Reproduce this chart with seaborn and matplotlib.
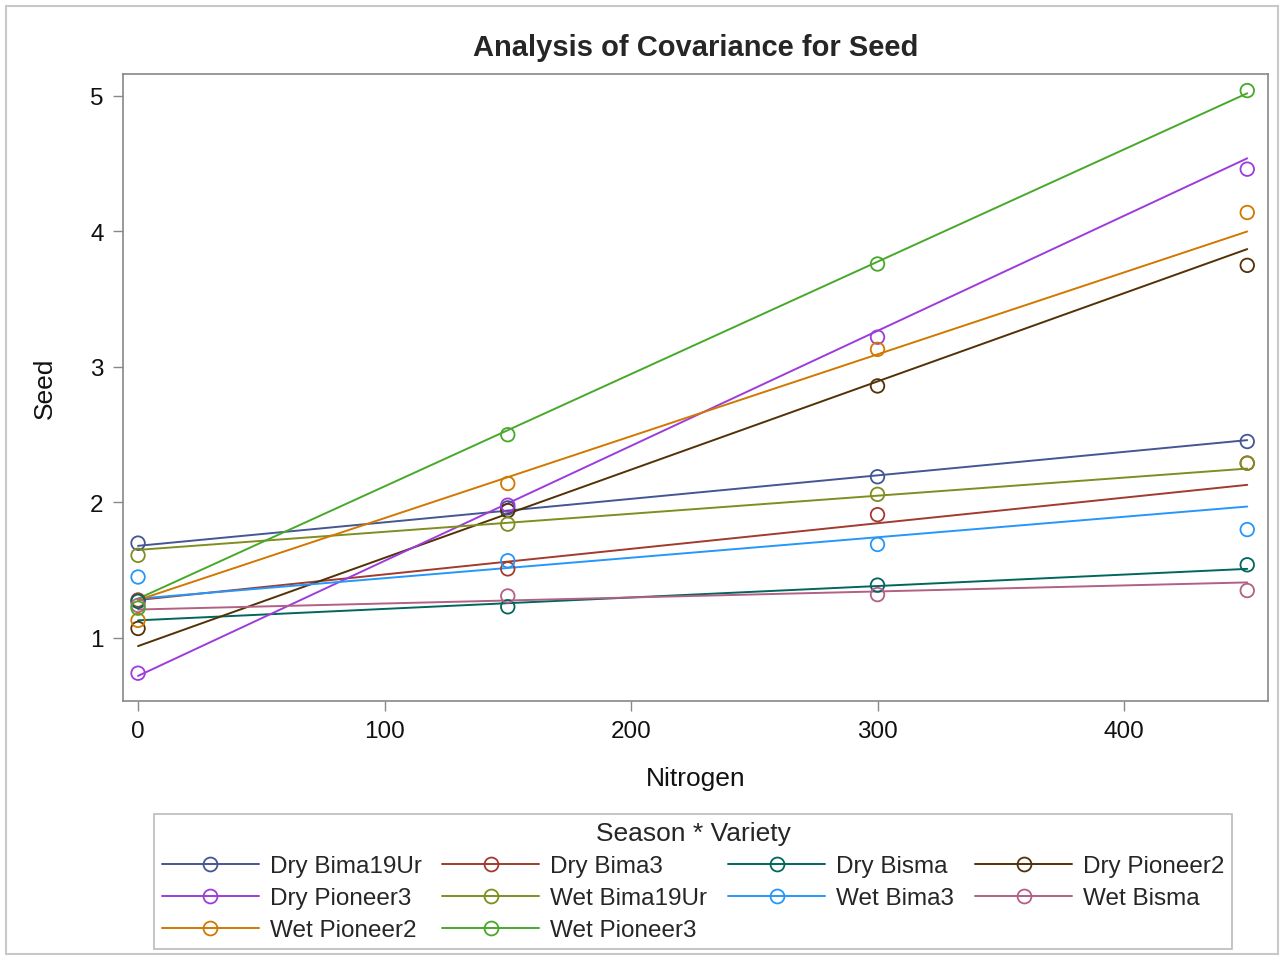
import matplotlib
matplotlib.use("Agg")
import matplotlib.pyplot as plt
import seaborn as sns
import pandas as pd
from matplotlib.lines import Line2D
from matplotlib.patches import Rectangle

# Observed seed values at each nitrogen level
nitrogen = [0, 150, 300, 450]
groups = ["Dry Bima19Ur", "Dry Bima3", "Dry Bisma", "Dry Pioneer2", "Dry Pioneer3",
          "Wet Bima19Ur", "Wet Bima3", "Wet Bisma", "Wet Pioneer2", "Wet Pioneer3"]
dry_bima19ur = [1.70, 1.96, 2.19, 2.45]
dry_bima3 = [1.28, 1.51, 1.91, 2.29]
dry_bisma = [1.27, 1.23, 1.39, 1.54]
dry_pioneer2 = [1.07, 1.94, 2.86, 3.75]
dry_pioneer3 = [0.74, 1.98, 3.22, 4.46]
wet_bima19ur = [1.61, 1.84, 2.06, 2.29]
wet_bima3 = [1.45, 1.57, 1.69, 1.80]
wet_bisma = [1.24, 1.31, 1.32, 1.35]
wet_pioneer2 = [1.13, 2.14, 3.13, 4.14]
wet_pioneer3 = [1.22, 2.50, 3.76, 5.04]
seed_values = [dry_bima19ur, dry_bima3, dry_bisma, dry_pioneer2, dry_pioneer3,
               wet_bima19ur, wet_bima3, wet_bisma, wet_pioneer2, wet_pioneer3]

# Fitted (ANCOVA) line values at nitrogen = 0 and 450
fit_x = [0, 450]
fit_start = [1.68, 1.28, 1.13, 0.94, 0.72, 1.65, 1.29, 1.21, 1.28, 1.29]
fit_end = [2.46, 2.13, 1.51, 3.87, 4.54, 2.25, 1.97, 1.41, 4.00, 5.02]

colors = ["#445694", "#A23A2E", "#01665E", "#543005", "#9D3CDB",
          "#7F8E1F", "#2597FA", "#B26084", "#D17800", "#47A82A"]
palette = dict(zip(groups, colors))

points = pd.DataFrame(
    [(g, x, y) for g, ys in zip(groups, seed_values) for x, y in zip(nitrogen, ys)],
    columns=["Group", "Nitrogen", "Seed"],
)
fits = pd.DataFrame(
    [(g, x, y) for g, a, b in zip(groups, fit_start, fit_end) for x, y in zip(fit_x, [a, b])],
    columns=["Group", "Nitrogen", "Seed"],
)

sns.set_style("white")
plt.rcParams["font.family"] = ["Liberation Sans", "DejaVu Sans"]

fig = plt.figure(figsize=(12.84, 9.62), dpi=100)
ax = fig.add_axes([0.0958, 0.2703, 0.8917, 0.6517])

sns.lineplot(data=fits, x="Nitrogen", y="Seed", hue="Group", palette=palette,
             hue_order=groups, legend=False, lw=1.4, ax=ax)
sns.scatterplot(data=points, x="Nitrogen", y="Seed", hue="Group", palette=palette,
                hue_order=groups, legend=False, s=95, ax=ax, zorder=3)
pts = ax.collections[-1]
pts.set_edgecolors(pts.get_facecolors())
pts.set_facecolors("none")
pts.set_linewidths(1.3)

ax.set_xlim(-6.1, 458.4)
ax.set_ylim(0.535, 5.162)
ax.set_xticks([0, 100, 200, 300, 400])
ax.set_yticks([1, 2, 3, 4, 5])
ax.tick_params(axis="both", labelsize=17.5, length=7, width=1, color="#888888",
               direction="out", pad=7, left=True, bottom=True, labelcolor="#111111")
for sp in ax.spines.values():
    sp.set_color("#888888")
    sp.set_linewidth(1.2)
ax.set_xlabel("Nitrogen", fontsize=19, labelpad=17, color="#111111")
ax.set_ylabel("Seed", fontsize=19, labelpad=24, color="#111111")
ax.set_title("Analysis of Covariance for Seed", fontsize=21, fontweight="bold", pad=14)

# legend: fill row-wise like the reference
handles = [Line2D([], [], color=c, marker="o", mfc="none", mec=c, ms=10, mew=1.3, lw=1.4)
           for c in colors]
order = [0, 4, 8, 1, 5, 9, 2, 6, 3, 7]
leg = fig.legend([handles[i] for i in order], [groups[i] for i in order],
                 ncol=4, title="Season * Variety", loc="upper center",
                 bbox_to_anchor=(693 / 1284, 1 - 815 / 962), borderaxespad=0,
                 fontsize=17.5, title_fontsize=19, handlelength=4.0,
                 handletextpad=0.45, columnspacing=0.85, labelspacing=0.42,
                 borderpad=0.3, frameon=True, fancybox=False, edgecolor="#aaaaaa")
leg.get_frame().set_linewidth(1.2)
leg._legend_box.sep = 7

fig.patches.append(Rectangle((6 / 1284, 1 - 955 / 962), 1272 / 1284, 948 / 962,
                             transform=fig.transFigure, fill=False,
                             edgecolor="#c8c8c8", lw=1.5))

fig.savefig("out.png", dpi=100)
